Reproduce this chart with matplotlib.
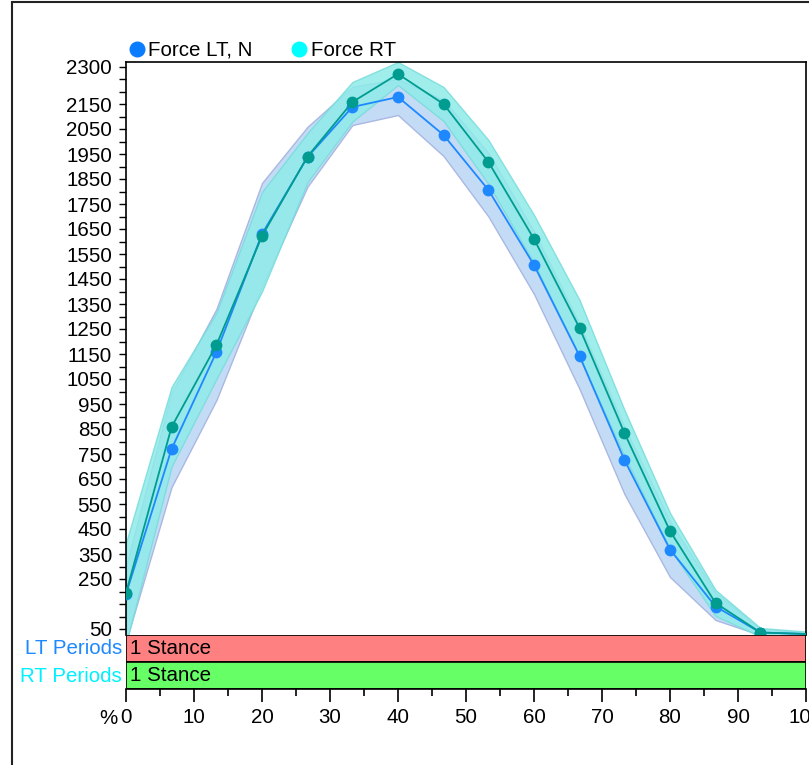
import matplotlib
matplotlib.use("Agg")
import matplotlib.pyplot as plt
from matplotlib.lines import Line2D
from matplotlib.patches import Rectangle
from matplotlib.ticker import FixedLocator

plt.rcParams["font.family"] = ["Liberation Sans", "DejaVu Sans"]

# percent of stance
pct = [0, 6.7, 13.3, 20, 26.7, 33.3, 40, 46.7, 53.3, 60, 66.7, 73.3, 80, 86.7, 93.3, 100]

# left foot force, N: mean and band edges
lt_mean = [190, 770, 1158, 1630, 1938, 2138, 2178, 2026, 1806, 1506, 1142, 726, 368, 140, 36, 30]
lt_low = [0, 618, 966, 1420, 1820, 2066, 2106, 1942, 1700, 1390, 1010, 590, 258, 86, 26, 26]
lt_high = [300, 994, 1330, 1834, 2059, 2219, 2250, 2166, 1954, 1640, 1270, 858, 480, 196, 50, 36]

# right foot force, N
rt_mean = [194, 858, 1186, 1622, 1940, 2158, 2270, 2150, 1918, 1610, 1254, 834, 442, 154, 36, 30]
rt_low = [-10, 700, 1050, 1400, 1838, 2080, 2226, 2082, 1830, 1514, 1140, 742, 370, 102, 20, 22]
rt_high = [394, 1018, 1314, 1798, 2034, 2238, 2318, 2218, 2006, 1706, 1366, 926, 514, 206, 54, 40]

ytick_labels = [50, 250, 350, 450, 550, 650, 750, 850, 950, 1050, 1150, 1250, 1350,
                1450, 1550, 1650, 1750, 1850, 1950, 2050, 2150, 2300]
ytick_minor = [100, 150, 200, 2200, 2250] + [300 + 100 * i for i in range(19)]

FS = 14.8
W, H = 809, 765
fig = plt.figure(figsize=(W / 100, H / 100), dpi=100)

# outer frame of the report panel
fig.add_artist(Rectangle((12 / W, -0.05), 1.2, 1.05 - 2 / H, transform=fig.transFigure,
                         fill=False, edgecolor="#222222", linewidth=1.5))

ax = fig.add_axes([126 / W, (H - 635) / H, (806 - 126) / W, (635 - 62) / H])

ax.fill_between(pct, lt_low, lt_high, facecolor="#c4dbf5", edgecolor="#a9b8e2",
                linewidth=1, zorder=1)
ax.fill_between(pct, rt_low, rt_high, facecolor="#8febe9", alpha=0.85,
                edgecolor="#78dcdc", linewidth=1, zorder=2)

ax.plot(pct, lt_mean, color="#1e88ff", linewidth=1.3, marker="o", markersize=8.5,
        markeredgewidth=0, markevery=slice(0, 15), zorder=3)
ax.plot(pct, rt_mean, color="#009c90", linewidth=1.3, marker="o", markersize=8.5,
        markeredgewidth=0, markevery=slice(0, 15), zorder=4)

ax.set_xlim(0, 100)
ax.set_ylim(26, 2318)
ax.set_xticks([])
ax.yaxis.set_major_locator(FixedLocator(ytick_labels))
ax.yaxis.set_minor_locator(FixedLocator(ytick_minor))
ax.set_yticklabels([str(v) for v in ytick_labels])
ax.tick_params(axis="y", which="both", direction="out", length=5, width=1,
               pad=5, labelsize=FS)
ax.spines["bottom"].set_visible(False)
for s in ["left", "top", "right"]:
    ax.spines[s].set_linewidth(1.2)

# legend
fig.add_artist(Line2D([137 / W], [1 - 49 / H], transform=fig.transFigure, marker="o",
                      markersize=10.5, color="#0a7cff", linestyle=""))
fig.text(148 / W, 1 - 50 / H, "Force LT, N", fontsize=FS, va="center", ha="left")
fig.add_artist(Line2D([299 / W], [1 - 49 / H], transform=fig.transFigure, marker="o",
                      markersize=10.5, color="#00ffff", linestyle=""))
fig.text(311 / W, 1 - 50 / H, "Force RT", fontsize=FS, va="center", ha="left")

# stance periods
bx = fig.add_axes([126 / W, (H - 689) / H, (806 - 126) / W, (689 - 635) / H])
bx.barh([1.5], [100], height=1, left=0, color="#ff8080", edgecolor="black", linewidth=1.2)
bx.barh([0.5], [100], height=1, left=0, color="#66ff66", edgecolor="black", linewidth=1.2)
bx.text(0.6, 1.5, "1 Stance", fontsize=FS, va="center", ha="left")
bx.text(0.6, 0.5, "1 Stance", fontsize=FS, va="center", ha="left")
bx.set_xlim(0, 100)
bx.set_ylim(0, 2)
bx.set_yticks([])
bx.set_xticks(range(0, 101, 10))
bx.set_xticks(range(5, 100, 10), minor=True)
bx.tick_params(axis="x", which="major", direction="out", length=9, width=1.2,
               pad=5, labelsize=FS)
bx.tick_params(axis="x", which="minor", direction="out", length=5, width=1.2)
for s in ["left", "top", "right"]:
    bx.spines[s].set_visible(False)
bx.spines["bottom"].set_linewidth(1.2)

fig.text(117 / W, 1 - 718 / H, "%", fontsize=FS, va="center", ha="right")
fig.text(122 / W, 1 - 649 / H, "LT Periods", fontsize=FS, va="center", ha="right",
         color="#1e88ff")
fig.text(122 / W, 1 - 676 / H, "RT Periods", fontsize=FS, va="center", ha="right",
         color="#00f0ff")

fig.savefig("out.png", dpi=100)
